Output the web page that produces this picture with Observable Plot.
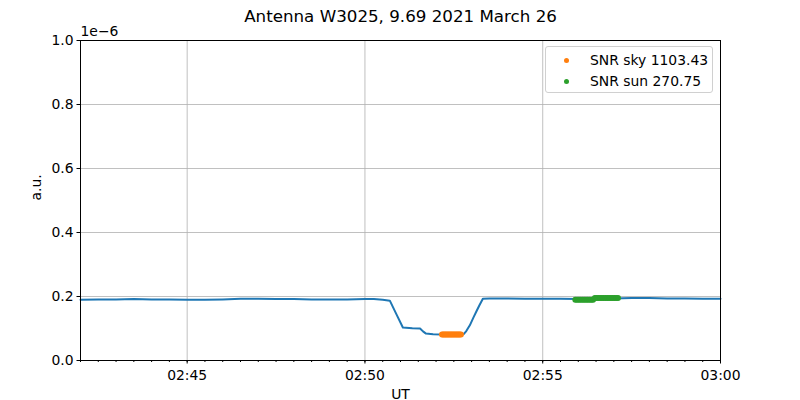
<!DOCTYPE html>
<html>
<head>
<meta charset="utf-8">
<script src="https://cdn.jsdelivr.net/npm/d3@7"></script>
<script src="https://cdn.jsdelivr.net/npm/@observablehq/plot@0.6"></script>
<style>
  html, body { margin: 0; padding: 0; background: #fff; }
  #wrap { position: relative; width: 800px; height: 400px; font-family: "DejaVu Sans", sans-serif; }
  #legend { position: absolute; left: 545px; top: 46px; width: 166px; height: 45px; border: 1px solid #d0d0d0; border-radius: 3px; background: rgba(255,255,255,0.8); font-size: 13.9px; color: #000; }
  .row { position: absolute; left: 0; height: 20px; line-height: 20px; }
  .dot { position: absolute; left: 18px; top: 8px; width: 5px; height: 5px; border-radius: 50%; }
  .lab { position: absolute; left: 44px; top: 0; white-space: nowrap; }
</style>
</head>
<body>
<div id="wrap"></div>
<script>
// Power (units of 1e-6 a.u.) vs UT
const signalTimes = ["02:42:00","02:42:30","02:43:00","02:43:30","02:44:00","02:44:30","02:45:00","02:45:30","02:46:00","02:46:30","02:47:00","02:47:30","02:48:00","02:48:30","02:49:00","02:49:30","02:50:00","02:50:15","02:50:30","02:50:42","02:50:53","02:51:04","02:51:20","02:51:33","02:51:38","02:51:43","02:51:55","02:52:10","02:52:25","02:52:42","02:52:47","02:52:51","02:52:57","02:53:03","02:53:08","02:53:13","02:53:19","02:53:30","02:54:00","02:54:30","02:55:00","02:55:30","02:56:00","02:56:30","02:57:00","02:57:30","02:58:00","02:58:30","02:59:00","02:59:30","03:00:00"];
const signalValues = [0.190,0.191,0.191,0.192,0.191,0.191,0.190,0.190,0.191,0.193,0.193,0.192,0.192,0.191,0.191,0.191,0.192,0.192,0.190,0.187,0.145,0.103,0.101,0.100,0.091,0.084,0.082,0.081,0.081,0.081,0.083,0.092,0.110,0.134,0.153,0.172,0.193,0.194,0.194,0.193,0.193,0.193,0.192,0.193,0.194,0.195,0.195,0.194,0.194,0.193,0.193];

const skyTimes = ["02:52:10","02:52:12","02:52:14","02:52:16","02:52:18","02:52:20","02:52:22","02:52:24","02:52:26","02:52:28","02:52:30","02:52:32","02:52:34","02:52:36","02:52:38","02:52:40","02:52:42"];
const skyValues = [0.081,0.081,0.081,0.081,0.081,0.081,0.081,0.081,0.081,0.081,0.081,0.081,0.081,0.081,0.081,0.081,0.081];

const sunTimes = ["02:55:55","02:55:58","02:56:01","02:56:04","02:56:07","02:56:10","02:56:13","02:56:16","02:56:19","02:56:22","02:56:25","02:56:28","02:56:31","02:56:34","02:56:37","02:56:40","02:56:43","02:56:46","02:56:49","02:56:52","02:56:55","02:56:58","02:57:01","02:57:04","02:57:07"];
const sunValues = [0.190,0.190,0.190,0.190,0.190,0.190,0.190,0.190,0.190,0.190,0.190,0.195,0.195,0.195,0.195,0.195,0.195,0.195,0.195,0.195,0.195,0.195,0.195,0.195,0.195];

const yTicks = [0, 0.2, 0.4, 0.6, 0.8, 1.0];
const xDomain = ["02:42:00", "03:00:00"];
const titleText = "Antenna W3025, 9.69 2021 March 26";
const skyLabel = "SNR sky 1103.43";
const sunLabel = "SNR sun 270.75";

const parse = d3.utcParse("%H:%M:%S");
const signal = signalTimes.map((t, i) => ({t: parse(t), v: signalValues[i]}));
const sky = skyTimes.map((t, i) => ({t: parse(t), v: skyValues[i]}));
const sun = sunTimes.map((t, i) => ({t: parse(t), v: sunValues[i]}));

const chart = Plot.plot({
  width: 800,
  height: 400,
  marginLeft: 80,
  marginRight: 80,
  marginTop: 40,
  marginBottom: 40,
  style: {fontFamily: "DejaVu Sans, sans-serif", fontSize: "13.9px", color: "#000", background: "#fff", overflow: "visible"},
  x: {type: "utc", domain: xDomain.map(parse)},
  y: {domain: [0, 1]},
  marks: [
    Plot.gridX({ticks: d3.utcMinute.every(5), stroke: "#b0b0b0", strokeOpacity: 1, strokeWidth: 0.8}),
    Plot.gridY(yTicks, {stroke: "#b0b0b0", strokeOpacity: 1, strokeWidth: 0.8}),
    Plot.line(signal, {x: "t", y: "v", stroke: "#1f77b4", strokeWidth: 2}),
    Plot.dot(sky, {x: "t", y: "v", fill: "#ff7f0e", r: 3}),
    Plot.dot(sun, {x: "t", y: "v", fill: "#2ca02c", r: 3}),
    Plot.frame({stroke: "#000", strokeWidth: 1}),
    Plot.axisX({ticks: d3.utcSecond.every(30), tickSize: 2, text: null, label: null, stroke: "#000"}),
    Plot.axisX({ticks: d3.utcMinute.every(5), tickFormat: d3.utcFormat("%H:%M"), tickSize: 3.5, tickPadding: 6, label: null, fontSize: 13.9, stroke: "#000", fill: "#000"}),
    Plot.axisY(yTicks, {tickFormat: d3.format(".1f"), tickSize: 3.5, tickPadding: 3.5, label: null, fontSize: 13.9, stroke: "#000", fill: "#000"}),
    Plot.text([titleText], {frameAnchor: "top", dy: -30, fontSize: 16.7, fill: "#000"}),
    Plot.text(["1e\u22126"], {frameAnchor: "top-left", textAnchor: "start", dy: -14, fontSize: 13.9, fill: "#000"}),
    Plot.text(["UT"], {frameAnchor: "bottom", dy: 38, fontSize: 13.9, fill: "#000"}),
    Plot.text(["a.u."], {frameAnchor: "left", dx: -44, rotate: -90, fontSize: 13.9, fill: "#000"})
  ]
});

const wrap = document.getElementById("wrap");
wrap.appendChild(chart);

const legend = document.createElement("div");
legend.id = "legend";
[[skyLabel, "#ff7f0e", 3], [sunLabel, "#2ca02c", 24]].forEach(([label, color, top]) => {
  const row = document.createElement("div");
  row.className = "row";
  row.style.top = top + "px";
  const dot = document.createElement("div");
  dot.className = "dot";
  dot.style.background = color;
  const lab = document.createElement("div");
  lab.className = "lab";
  lab.textContent = label;
  row.appendChild(dot);
  row.appendChild(lab);
  legend.appendChild(row);
});
wrap.appendChild(legend);
</script>
</body>
</html>
